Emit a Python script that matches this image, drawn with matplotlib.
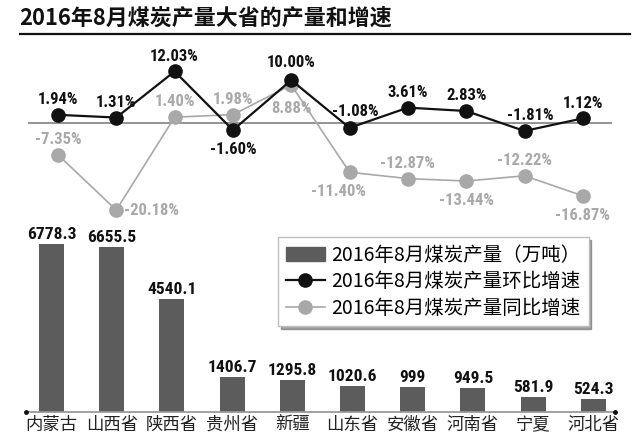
import matplotlib
matplotlib.use("Agg")
import matplotlib.pyplot as plt
from matplotlib.lines import Line2D
from matplotlib.patches import Patch

plt.rcParams['font.family'] = ['Noto Sans CJK SC', 'DejaVu Sans']

# ---------------------------------------------------------------------------
# Data
# ---------------------------------------------------------------------------
provinces = ["内蒙古", "山西省", "陕西省", "贵州省", "新疆",
             "山东省", "安徽省", "河南省", "宁夏", "河北省"]
output = [6778.3, 6655.5, 4540.1, 1406.7, 1295.8,
          1020.6, 999, 949.5, 581.9, 524.3]
output_labels = ["6778.3", "6655.5", "4540.1", "1406.7", "1295.8",
                 "1020.6", "999", "949.5", "581.9", "524.3"]
mom_growth = [1.94, 1.31, 12.03, -1.60, 10.00, -1.08, 3.61, 2.83, -1.81, 1.12]
yoy_growth = [-7.35, -20.18, 1.40, 1.98, 8.88, -11.40, -12.87, -13.44, -12.22, -16.87]

title = "2016年8月煤炭产量大省的产量和增速"
legend_labels = ["2016年8月煤炭产量（万吨）",
                 "2016年8月煤炭产量环比增速",
                 "2016年8月煤炭产量同比增速"]

BAR = "#5c5c5c"
BLACK = "#111111"
GRAY = "#a8a8a8"
ZERO = "#8a8a8a"
NUM_FONT = ["Roboto Condensed", "DejaVu Sans"]

W, H = 640, 443
fig = plt.figure(figsize=(W / 100, H / 100), dpi=100)
fig.patch.set_facecolor("white")


def px_axes(x0, y0, x1, y1):
    """Axes placed by pixel box (top-left origin)."""
    return fig.add_axes([x0 / W, 1 - y1 / H, (x1 - x0) / W, (y1 - y0) / H])


# ── Title + rule ──
fig.text(19 / W, 1 - 18 / H, title, fontsize=15.8, fontweight="heavy",
         color="#111111", va="center", ha="left")
fig.add_artist(Line2D([20 / W, 630 / W], [1 - 34 / H, 1 - 34 / H],
                      color="#111111", linewidth=1.6))

# ── Top panel: growth rates ──
ax1 = px_axes(28, 50, 612, 225)
ax1.axis("off")
ax1.set_xlim(-0.514, 9.5)
ax1.set_ylim(-23.65, 17.0)
ax1.axhline(0, color=ZERO, linewidth=1.3, zorder=1)
xs = list(range(len(provinces)))
ax1.plot(xs, yoy_growth, color=GRAY, linewidth=1.2, marker="o", markersize=9.5,
         markerfacecolor=GRAY, markeredgecolor=GRAY, zorder=2)
ax1.plot(xs, mom_growth, color=BLACK, linewidth=1.6, marker="o", markersize=9.5,
         markerfacecolor=BLACK, markeredgecolor=BLACK, zorder=3)

# label offsets in points (dx, dy)
mom_off = [(0, 11), (0, 11), (0, 11), (0, -14), (0, 13),
           (4, 12), (0, 11), (0, 11), (4, 11), (0, 11)]
yoy_off = [(0, 11), (25, 0), (0, 11), (0, 11), (0, -17),
           (-8, -14), (0, 11), (0, -14), (0, 11), (0, -14)]
for i, v in enumerate(mom_growth):
    dx, dy = mom_off[i]
    ax1.annotate(f"{v:.2f}%", (i, v), xytext=(dx, dy), textcoords="offset points",
                 ha="center", va="center", fontsize=12, fontweight="black",
                 color=BLACK, family=NUM_FONT, zorder=5)
for i, v in enumerate(yoy_growth):
    dx, dy = yoy_off[i]
    ax1.annotate(f"{v:.2f}%", (i, v), xytext=(dx, dy), textcoords="offset points",
                 ha="center", va="center", fontsize=12, fontweight="black",
                 color=GRAY, family=NUM_FONT, zorder=5)

# ── Bottom panel: output bars ──
ax2 = px_axes(26, 230, 615, 411.7)
ax2.set_xlim(-0.424, 9.36)
ax2.set_ylim(0, 7333)
bars = ax2.bar(xs, output, width=0.415, color=BAR, zorder=2)
for b, lab in zip(bars, output_labels):
    ax2.annotate(lab, (b.get_x() + b.get_width() / 2, b.get_height()),
                 xytext=(0, 1.5), textcoords="offset points", ha="center", va="bottom",
                 fontsize=12.5, fontweight="black", color=BLACK, family=NUM_FONT)
for s in ("top", "right", "left"):
    ax2.spines[s].set_visible(False)
ax2.spines["bottom"].set_color("#9a9a9a")
ax2.spines["bottom"].set_linewidth(1.3)
ax2.set_yticks([])
ax2.set_xticks(xs)
ax2.set_xticklabels(provinces, fontsize=12.5, color="#222222")
ax2.tick_params(axis="x", length=0, pad=3)
ax2.set_facecolor("none")
ax2.plot([-0.424, 9.36], [0, 0], "o", color=BLACK, markersize=2.5,
         clip_on=False, zorder=4)

# ── Legend ──
handles = [
    Patch(facecolor=BAR, edgecolor=BAR),
    Line2D([], [], color=BLACK, linewidth=1.6, marker="o", markersize=9.5),
    Line2D([], [], color=GRAY, linewidth=1.2, marker="o", markersize=9.5),
]
leg = fig.legend(handles, legend_labels, loc="upper left",
                 bbox_to_anchor=(278 / W, 1 - 237 / H), prop={"size": 14},
                 frameon=True, fancybox=False, shadow=True, edgecolor="#bdbdbd",
                 handlelength=2.0, handletextpad=0.35, labelspacing=0.28,
                 borderpad=0.4, borderaxespad=0)
leg.get_frame().set_linewidth(1.0)

fig.savefig("out.png", dpi=100, facecolor="white")
